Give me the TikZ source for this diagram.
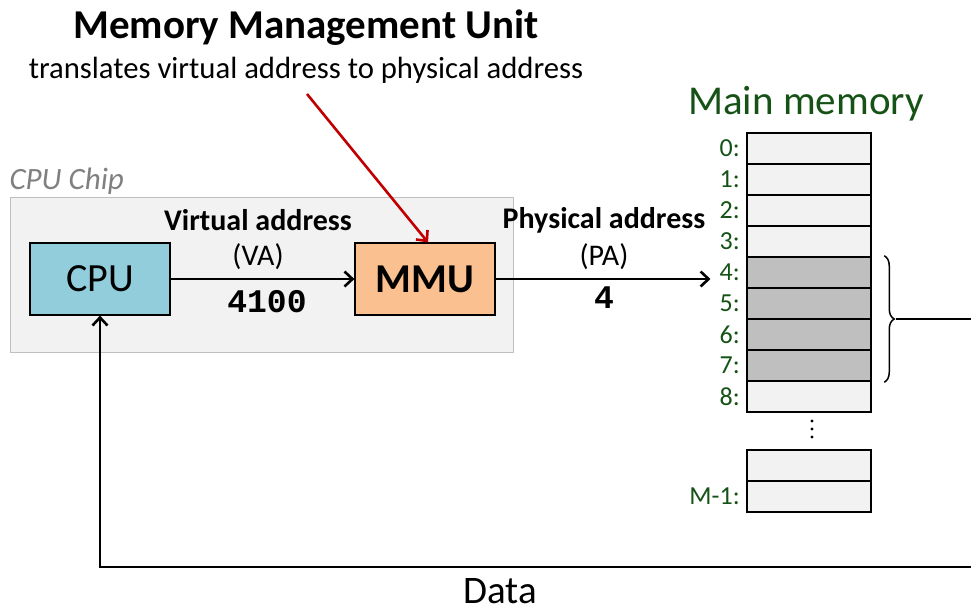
\documentclass[tikz,border=0pt]{standalone}
\usepackage{fontspec}
\setmainfont{Carlito}
\setmonofont{Liberation Mono}
\usetikzlibrary{arrows.meta,decorations.pathreplacing}
\definecolor{chipfill}{HTML}{F2F2F2}
\definecolor{chipline}{HTML}{BFBFBF}
\definecolor{cpufill}{HTML}{92CDDC}
\definecolor{mmufill}{HTML}{FAC090}
\definecolor{cellfree}{HTML}{F2F2F2}
\definecolor{cellused}{HTML}{BFBFBF}
\definecolor{memgreen}{RGB}{22,82,22}
\definecolor{hintred}{HTML}{C00000}

\begin{document}
\begin{tikzpicture}[x=1pt,y=-1pt,
  box/.style={draw=black,line width=1.2pt,minimum width=140pt,minimum height=72pt,inner sep=0pt},
  cell/.style={draw=black,line width=2.5pt,fill=cellfree,minimum width=124pt,minimum height=31pt,inner sep=0pt},
  addr/.style={text=memgreen,anchor=east,inner sep=1pt,font=\fontsize{26}{28}\selectfont},
  lbl/.style={font=\fontsize{30}{32}\selectfont},
  link/.style={line width=2.6pt,-{Straight Barb[length=8pt,width=15pt,line width=2.6pt]}}]
\useasboundingbox (0,0) rectangle (971,611);

% chip
\node[draw=chipline,line width=1.2pt,fill=chipfill,minimum width=503pt,minimum height=155pt,inner sep=0pt] (chip) at (262,275) {};
\node[anchor=west,text=gray,font=\fontsize{31}{33}\selectfont\itshape] (chiplabel) at (6,181) {CPU Chip};

\node[box,fill=cpufill,font=\fontsize{40}{42}\selectfont] (cpu) at (100,279) {CPU};
\node[box,fill=mmufill,font=\fontsize{41}{43}\selectfont\bfseries] (mmu) at (425,279) {MMU};

\node[font=\fontsize{41}{44}\selectfont\bfseries] (title) at (306,28) {Memory Management Unit};
\node[font=\fontsize{30.7}{33}\selectfont] (sub) at (306,70) {translates virtual address to physical address};

% memory
\node[text=memgreen,font=\fontsize{41}{44}\selectfont] (mainmem) at (806,104) {Main memory};
\foreach \i in {0,...,8}{
  \node[cell] (m\i) at (809,{148.5+31*\i}) {};
  \node[addr] (l\i) at (741,{148.5+31*\i}) {\i:};
}
\foreach \i in {4,...,7}
  \node[cell,fill=cellused] at (m\i) {};
\foreach \y in {421,429,437}
  \fill (812,\y) circle (1.6pt);
\node[cell] (mA) at (809,465.5) {};
\node[cell] (mB) at (809,496.5) {};
\node[addr] (lB) at (741,496.5) {M-1:};

% addresses
\node[lbl,font=\fontsize{30}{32}\selectfont\bfseries] (va) at (258,220) {Virtual address};
\node[lbl] (vaabbr) at (258,257) {(VA)};
\node[font=\fontsize{33}{35}\selectfont\ttfamily\bfseries] (vanum) at (267,302) {4100};
\node[lbl,font=\fontsize{30}{32}\selectfont\bfseries] (pa) at (604,220) {Physical address};
\node[lbl] (paabbr) at (604,257) {(PA)};
\node[font=\fontsize{33}{35}\selectfont\ttfamily\bfseries] (panum) at (604,298) {4};

\draw[link] (cpu.east) -- (mmu.west);
\draw[link] (mmu.east) -- ([xshift=-8pt]mmu.east -| l4.west);
\draw[link,hintred] (307,94) coordinate (hint) -- ([xshift=3pt]mmu.north);

% brace and data path
\draw[line width=1.5pt,decorate,decoration={brace,amplitude=10pt}] ([xshift=12pt]m4.north east) -- ([xshift=12pt]m7.south east) coordinate[midway,xshift=12pt] (bt);
\coordinate (edge) at (971,319);
\draw[line width=2.6pt] (bt) -- (edge);
\coordinate (dataend) at (971,567);
\draw[link] (dataend) -- (cpu.south |- dataend) -- (cpu.south);
\node[anchor=base,inner sep=0pt,font=\fontsize{39}{41}\selectfont] (data) at (500,603) {Data};
\end{tikzpicture}
\end{document}
